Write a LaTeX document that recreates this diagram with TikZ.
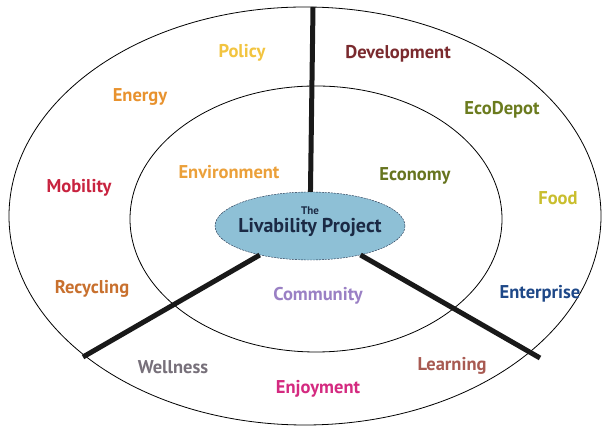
\documentclass[tikz,border=0pt]{standalone}
\usepackage{fontspec}
\setmainfont{PT Sans}
\usetikzlibrary{shapes.geometric, positioning}

\definecolor{hubtext}{HTML}{1B2A45}
\definecolor{hubfill}{HTML}{8EC0D6}
\definecolor{cpolicy}{HTML}{F2C440}
\definecolor{cdevel}{HTML}{7A2A2E}
\definecolor{cenergy}{HTML}{E8922E}
\definecolor{cecodepot}{HTML}{6B7B1E}
\definecolor{cenviron}{HTML}{EBA03A}
\definecolor{ceconomy}{HTML}{66741F}
\definecolor{cmobility}{HTML}{C8233F}
\definecolor{cfood}{HTML}{C9BE2E}
\definecolor{crecycle}{HTML}{C8702E}
\definecolor{ccommunity}{HTML}{9A80C4}
\definecolor{centerprise}{HTML}{1E4888}
\definecolor{cwellness}{HTML}{77707A}
\definecolor{clearning}{HTML}{A85A52}
\definecolor{cenjoy}{HTML}{D42A80}

\begin{document}
\begin{tikzpicture}[x=1pt, y=1pt,
  ring/.style={draw, line width=0.8pt},
  spoke/.style={line width=5pt, draw=black!90},
  lbl/.style={font=\bfseries\fontsize{18.5}{18.5}\selectfont, inner sep=0pt}]
\useasboundingbox (0,0) rectangle (602,430);
\draw[ring] (305,214) ellipse [x radius=296, y radius=209];
\draw[ring] (316,211) ellipse [x radius=186, y radius=133];
\coordinate (top) at (313,423);
\coordinate (sw) at (83,73);
\coordinate (se) at (540,72);
\node[ellipse, draw=hubtext, dash pattern=on 2pt off 1pt, fill=hubfill, minimum width=190, minimum height=68, inner sep=0pt] (hub) at (310,204) {};
\draw[spoke] (hub) -- (top);
\draw[spoke] (hub) -- (sw);
\draw[spoke] (hub) -- (se);
\node[text=hubtext, font=\bfseries\fontsize{20}{20}\selectfont, inner sep=0pt] (title) at (310,203) {Livability Project};
\node[text=hubtext, font=\bfseries\fontsize{11}{11}\selectfont, inner sep=0pt, above=3pt of title] (the) {The};
\node[lbl, text=cpolicy] (policy) at (242,377) {Policy};
\node[lbl, text=cdevel] (devel) at (398,376) {Development};
\node[lbl, text=cenergy] (energy) at (140,333) {Energy};
\node[lbl, text=cecodepot] (ecodepot) at (502,320) {EcoDepot};
\node[lbl, text=cenviron] (environ) at (229,258) {Environment};
\node[lbl, text=ceconomy] (economy) at (415,254) {Economy};
\node[lbl, text=cmobility] (mobility) at (79,242) {Mobility};
\node[lbl, text=cfood] (food) at (558,232) {Food};
\node[lbl, text=crecycle] (recycle) at (92,141) {Recycling};
\node[lbl, text=ccommunity] (community) at (318,134) {Community};
\node[lbl, text=centerprise] (enterprise) at (540,136) {Enterprise};
\node[lbl, text=cwellness] (wellness) at (173,63) {Wellness};
\node[lbl, text=clearning] (learning) at (452,64) {Learning};
\node[lbl, text=cenjoy] (enjoy) at (318,41) {Enjoyment};
\end{tikzpicture}
\end{document}
